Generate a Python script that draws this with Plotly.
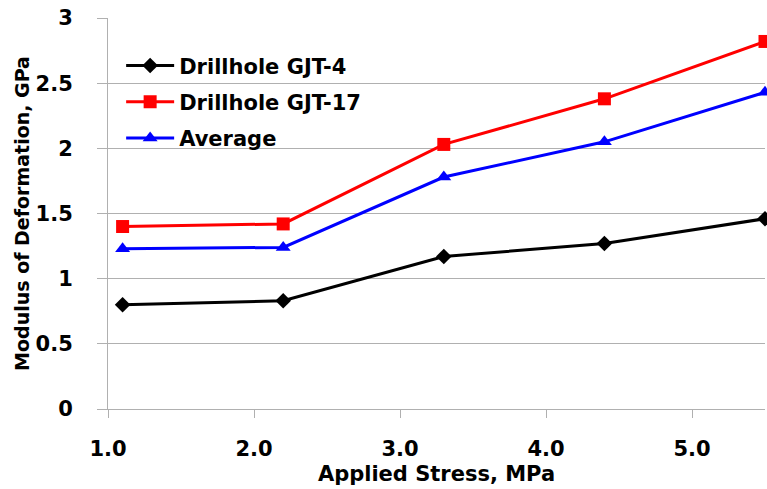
import plotly.graph_objects as go

stress = [1.1, 2.2, 3.3, 4.4, 5.5]
gjt4 = [0.80, 0.83, 1.17, 1.27, 1.46]
gjt17 = [1.40, 1.42, 2.03, 2.38, 2.82]
average = [1.23, 1.24, 1.78, 2.05, 2.43]

series = [
    ("Drillhole GJT-4", gjt4, "black", "diamond", 12),
    ("Drillhole GJT-17", gjt17, "red", "square", 13),
    ("Average", average, "blue", "triangle-up", 13),
]

fig = go.Figure()
for i, (name, ys, color, sym, size) in enumerate(series):
    fig.add_trace(go.Scatter(
        x=stress, y=ys, name=name, mode="lines+markers",
        legendgroup="g%d" % i,
        line=dict(color=color, width=3),
        marker=dict(symbol=sym, size=size, color=color),
        cliponaxis=False,
    ))

font = "'DejaVu Sans', sans-serif"
fig.update_layout(
    width=767, height=489,
    margin=dict(l=108, r=2, t=18, b=80),
    plot_bgcolor="white", paper_bgcolor="white",
    font=dict(family=font, color="black", size=20),
    showlegend=True,
    legend=dict(x=0.02, y=0.93, xanchor="left", yanchor="top",
                bgcolor="rgba(0,0,0,0)", font=dict(size=21, family=font, weight="bold"),
                itemwidth=48, tracegroupgap=6),
    xaxis=dict(
        range=[1.0, 5.5], tickvals=[1, 2, 3, 4, 5], ticktext=["1.0", "2.0", "3.0", "4.0", "5.0"],
        showgrid=False, showline=True, linecolor="#b0b0b0", linewidth=1,
        ticks="outside", ticklen=8, tickcolor="#b0b0b0",
        ticklabelstandoff=13,
        tickfont=dict(size=21, family=font, weight="bold"),
        title=dict(text="Applied Stress, MPa", font=dict(size=21, family=font, weight="bold"), standoff=6),
        zeroline=False,
    ),
    yaxis=dict(
        range=[0, 3], tickvals=[0, 0.5, 1, 1.5, 2, 2.5, 3], ticktext=["0", "0.5", "1", "1.5", "2", "2.5", "3"],
        showgrid=True, gridcolor="#b0b0b0", gridwidth=1,
        showline=True, linecolor="#b0b0b0", linewidth=1,
        ticks="outside", ticklen=10, tickcolor="#b0b0b0",
        ticklabelstandoff=20,
        tickfont=dict(size=21, family=font, weight="bold"),
        title=dict(text="Modulus of Deformation, GPa", font=dict(size=19, family=font, weight="bold"), standoff=0),
        zeroline=False,
    ),
)

fig.write_html("out.html")
